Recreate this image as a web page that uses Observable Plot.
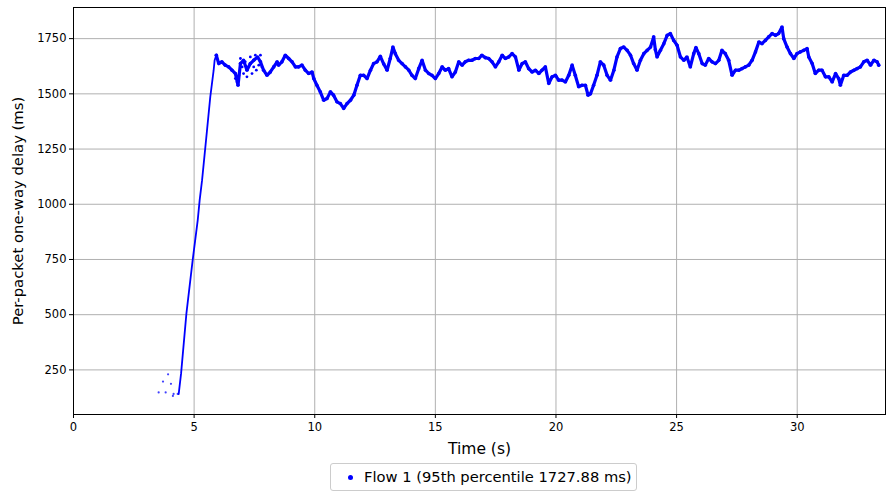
<!DOCTYPE html>
<html>
<head>
<meta charset="utf-8">
<script src="https://cdn.jsdelivr.net/npm/d3@7"></script>
<script src="https://cdn.jsdelivr.net/npm/@observablehq/plot@0.6"></script>
<style>
  html, body { margin: 0; padding: 0; background: #fff; }
  #wrap { position: relative; width: 886px; height: 493px; font-family: "DejaVu Sans", sans-serif; }
  #legend { position: absolute; left: 330px; top: 463px; width: 307px; height: 28px; box-sizing: border-box;
            border: 1px solid #cccccc; border-radius: 3px; background: #fff; }
  #legend .mk { position: absolute; left: 17px; top: 11px; width: 5px; height: 5px; border-radius: 50%; background: #0000ff; }
  #legend .tx { position: absolute; left: 33px; top: 4px; font-size: 14.7px; color: #000; white-space: nowrap; }
</style>
</head>
<body>
<div id="wrap">
  <div id="chart"></div>
  <div id="legend"><span class="mk"></span><span class="tx" id="legendText"></span></div>
</div>
<script>
// ---- data ----
const xTicks = [0, 5, 10, 15, 20, 25, 30];
const yTicks = [250, 500, 750, 1000, 1250, 1500, 1750];
const xLabel = "Time (s)";
const yLabel = "Per-packet one-way delay (ms)";
const seriesName = "Flow 1 (95th percentile 1727.88 ms)";

// isolated early packets
const earlyTime  = [3.53, 3.71, 3.82, 3.92, 4.04, 4.12, 4.15, 4.32];
const earlyDelay = [148, 197, 148, 230, 187, 132, 141, 141];

// main delay trace
const flowTime = [
  4.36, 4.46, 4.68, 4.94, 5.15, 5.23, 5.33, 5.53, 5.67, 5.81, 5.85, 5.92,
  6.02, 6.15, 6.29, 6.43, 6.57, 6.71, 6.82, 6.92, 7.05, 7.19, 7.33, 7.47, 7.63, 7.75, 7.88,
  8.02, 8.16, 8.30, 8.44, 8.50, 8.64, 8.78, 8.92, 9.06, 9.20, 9.33, 9.47, 9.61, 9.75, 9.89, 9.96,
  10.09, 10.23, 10.37, 10.51, 10.65, 10.78, 10.92, 11.06, 11.20, 11.34, 11.48, 11.62, 11.75, 11.89,
  12.03, 12.17, 12.31, 12.44, 12.58, 12.72, 12.86, 13.00, 13.13, 13.24, 13.34, 13.48, 13.62, 13.76, 13.90,
  14.03, 14.17, 14.31, 14.45, 14.59, 14.73, 14.86, 15.00, 15.14, 15.28, 15.41, 15.55, 15.69, 15.83, 15.97,
  16.11, 16.24, 16.38, 16.52, 16.66, 16.80, 16.93, 17.07, 17.21, 17.35, 17.49, 17.63, 17.77, 17.90,
  18.04, 18.18, 18.32, 18.46, 18.60, 18.73, 18.87, 19.01, 19.15, 19.29, 19.42, 19.56, 19.70, 19.84, 19.98,
  20.11, 20.25, 20.39, 20.53, 20.67, 20.80, 20.94, 21.08, 21.22, 21.33, 21.43, 21.56, 21.70, 21.84, 21.98,
  22.12, 22.26, 22.40, 22.53, 22.67, 22.81, 22.95, 23.09, 23.22, 23.36, 23.50, 23.64, 23.78, 23.92,
  24.05, 24.12, 24.19, 24.33, 24.47, 24.61, 24.74, 24.88, 25.02, 25.16, 25.30, 25.43, 25.57, 25.71, 25.80, 25.92,
  26.06, 26.19, 26.33, 26.47, 26.61, 26.75, 26.88, 27.02, 27.16, 27.30, 27.44, 27.58, 27.71, 27.85, 27.99,
  28.13, 28.27, 28.41, 28.54, 28.68, 28.82, 28.96, 29.10, 29.23, 29.37, 29.44, 29.58, 29.72, 29.86, 29.99,
  30.13, 30.27, 30.41, 30.48, 30.62, 30.75, 30.89, 31.03, 31.17, 31.31, 31.45, 31.59, 31.72, 31.79, 31.93,
  32.07, 32.21, 32.35, 32.48, 32.62, 32.76, 32.90, 33.04, 33.18, 33.31, 33.38
];
const flowDelay = [
  140, 234, 505, 747, 928, 1019, 1109, 1330, 1486, 1607, 1652, 1675,
  1637, 1645, 1630, 1622, 1607, 1592, 1539, 1637, 1652, 1607, 1637, 1652, 1667, 1645, 1607,
  1584, 1599, 1622, 1645, 1630, 1645, 1675, 1660, 1645, 1622, 1622, 1630, 1607, 1592, 1599, 1569,
  1539, 1509, 1471, 1479, 1509, 1494, 1464, 1456, 1434, 1456, 1471, 1494, 1539, 1584,
  1584, 1569, 1607, 1637, 1645, 1670, 1635, 1607, 1660, 1712, 1682, 1652, 1637, 1622, 1607,
  1584, 1569, 1614, 1652, 1607, 1592, 1584, 1569, 1592, 1622, 1607, 1614, 1577, 1599, 1645,
  1630, 1645, 1652, 1652, 1660, 1660, 1675, 1664, 1660, 1645, 1622, 1645, 1675, 1660,
  1667, 1682, 1667, 1607, 1637, 1645, 1614, 1599, 1607, 1592, 1607, 1622, 1547, 1577, 1584,
  1562, 1562, 1554, 1584, 1630, 1584, 1532, 1539, 1539, 1494, 1500, 1539, 1584, 1645, 1630,
  1584, 1562, 1607, 1667, 1705, 1712, 1697, 1675, 1637, 1607, 1652, 1682, 1697, 1712,
  1758, 1700, 1667, 1697, 1727, 1765, 1773, 1742, 1720, 1667, 1652, 1667, 1622, 1682, 1710, 1682,
  1637, 1630, 1660, 1645, 1637, 1652, 1697, 1682, 1652, 1584, 1607, 1607, 1614, 1622, 1630,
  1652, 1690, 1735, 1727, 1742, 1758, 1773, 1765, 1773, 1803, 1750, 1712, 1682, 1660, 1682,
  1690, 1697, 1705, 1667, 1637, 1592, 1607, 1607, 1577, 1577, 1554, 1592, 1569, 1539, 1584,
  1584, 1599, 1607, 1614, 1622, 1645, 1652, 1630, 1652, 1645, 1630
];

// scattered packets in the noisy region near 7 s
const cloudTime  = [6.71, 6.78, 6.85, 6.92, 6.99, 7.05, 7.12, 7.19, 7.26, 7.33, 7.40, 7.47, 7.54, 7.58, 7.68, 7.75, 7.81];
const cloudDelay = [1569, 1554, 1584, 1660, 1622, 1592, 1645, 1577, 1622, 1667, 1592, 1622, 1675, 1607, 1630, 1675, 1622];

// ---- build tables ----
const flow  = flowTime.map((t, i) => ({t, d: flowDelay[i]}));
const early = earlyTime.map((t, i) => ({t, d: earlyDelay[i]}));
const cloud = cloudTime.map((t, i) => ({t, d: cloudDelay[i]}));
const riseEnd = 5.92;

const blue = "#0000ff";
const font = "DejaVu Sans, sans-serif";

const chart = Plot.plot({
  width: 886,
  height: 462,
  marginLeft: 73,
  marginRight: 1,
  marginTop: 7,
  marginBottom: 48,
  style: { fontFamily: font, background: "#fff", overflow: "visible" },
  x: { domain: [0, 33.66], label: null },
  y: { domain: [48, 1891], label: null },
  marks: [
    Plot.gridX(xTicks, { stroke: "#b0b0b0", strokeOpacity: 1, strokeWidth: 1 }),
    Plot.gridY(yTicks, { stroke: "#b0b0b0", strokeOpacity: 1, strokeWidth: 1 }),
    Plot.axisX({ ticks: xTicks, tickFormat: d => String(d), tickSize: 4, tickPadding: 4, fontSize: 11.5, label: null, stroke: "#000" }),
    Plot.axisY({ ticks: yTicks, tickFormat: d => String(d), tickSize: 4, tickPadding: 3, fontSize: 11.5, label: null, stroke: "#000" }),
    Plot.line(flow, { filter: d => d.t <= riseEnd, x: "t", y: "d", stroke: blue, strokeWidth: 1.8 }),
    Plot.line(flow, { filter: d => d.t >= riseEnd, x: "t", y: "d", stroke: blue, strokeWidth: 3.2, strokeLinejoin: "miter" }),
    Plot.dot(flow, { filter: d => d.t >= riseEnd, x: "t", y: "d", r: 1.8, fill: blue, stroke: "none" }),
    Plot.dot(cloud, { x: "t", y: "d", r: 1.4, fill: blue, stroke: "none" }),
    Plot.dot(early, { x: "t", y: "d", r: 1.1, fill: blue, fillOpacity: 0.75, stroke: "none" }),
    Plot.frame({ stroke: "#000", strokeWidth: 1 }),
    Plot.text([xLabel], { frameAnchor: "bottom", dy: 34.5, lineAnchor: "middle", fontSize: 15.5, fill: "#000" }),
    Plot.text([yLabel], { frameAnchor: "left", dx: -55, rotate: -90, lineAnchor: "middle", textAnchor: "middle", fontSize: 14.8, fill: "#000" })
  ]
});
document.getElementById("chart").appendChild(chart);
document.getElementById("legendText").textContent = seriesName;
</script>
</body>
</html>
